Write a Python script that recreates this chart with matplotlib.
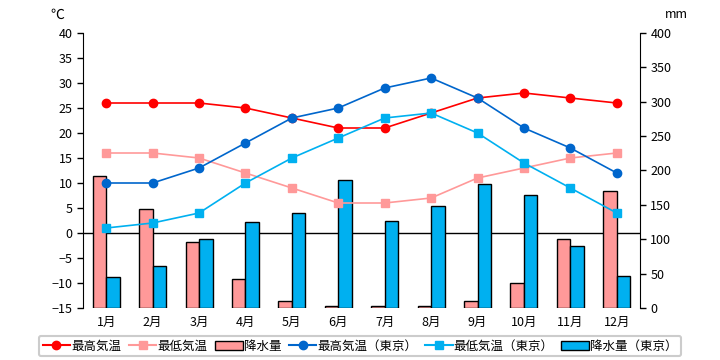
import numpy as np
import matplotlib.pyplot as plt
from matplotlib.lines import Line2D
from matplotlib.patches import Patch
from matplotlib.transforms import blended_transform_factory

plt.rcParams['font.family'] = ['Noto Sans CJK JP', 'DejaVu Sans']

# Data
months = ["1月", "2月", "3月", "4月", "5月", "6月", "7月", "8月", "9月", "10月", "11月", "12月"]
max_temp = [26, 26, 26, 25, 23, 21, 21, 24, 27, 28, 27, 26]
min_temp = [16, 16, 15, 12, 9, 6, 6, 7, 11, 13, 15, 16]
rain = [192, 144, 96, 42, 10, 3, 3, 3, 10, 37, 101, 170]
max_temp_tokyo = [10, 10, 13, 18, 23, 25, 29, 31, 27, 21, 17, 12]
min_temp_tokyo = [1, 2, 4, 10, 15, 19, 23, 24, 20, 14, 9, 4]
rain_tokyo = [45, 61, 100, 125, 138, 186, 126, 148, 180, 164, 90, 46]

# Colours
c_max = "#FF0000"
c_min = "#FF9999"
c_max_t = "#0066CC"
c_min_t = "#00B0F0"
bg = "#FFFFCC"

x = np.arange(len(months))
w = 0.29

fig = plt.figure(figsize=(7.2, 3.6), dpi=100)
ax = fig.add_axes([83 / 720, 1 - 308 / 360, (640 - 83) / 720, (308 - 33) / 360])
ax2 = ax.twinx()
ax.set_zorder(ax2.get_zorder() + 1)
ax.patch.set_visible(False)
ax2.set_facecolor(bg)

# precipitation bars (right axis)
ax2.bar(x - w / 2, rain, w, color=c_min, edgecolor="black", linewidth=1, zorder=3)
ax2.bar(x + w / 2, rain_tokyo, w, color=c_min_t, edgecolor="black", linewidth=1, zorder=3)
ax2.set_ylim(0, 400)
ax2.set_yticks(np.arange(0, 401, 50))

# zero line of the temperature axis, kept behind the bars
trans = blended_transform_factory(ax2.transAxes, ax.transData)
ax2.plot([0, 1], [0, 0], color="black", linewidth=1, transform=trans, zorder=2)

# temperature lines (left axis)
ax.plot(x, max_temp, color=c_max, marker="o", markersize=6, linewidth=1.2)
ax.plot(x, min_temp, color=c_min, marker="s", markersize=6, linewidth=1.2)
ax.plot(x, max_temp_tokyo, color=c_max_t, marker="o", markersize=6, linewidth=1.2)
ax.plot(x, min_temp_tokyo, color=c_min_t, marker="s", markersize=6, linewidth=1.2)
ax.set_ylim(-15, 40)
ax.set_yticks(np.arange(-15, 41, 5))
ax.set_xlim(-0.5, 11.5)
ax.set_xticks(x)
ax.set_xticklabels(months)

for a in (ax, ax2):
    a.spines["top"].set_visible(False)
    a.spines["bottom"].set_visible(False)
    a.tick_params(axis="x", length=0, pad=6, labelsize=9)
    a.tick_params(axis="y", length=4, width=1, labelsize=9, direction="out")
ax.spines["right"].set_visible(False)
ax2.spines["left"].set_visible(False)

fig.text(50 / 720, 1 - 15 / 360, "℃", fontsize=10, ha="left", va="center")
fig.text(665 / 720, 1 - 15 / 360, "mm", fontsize=9, ha="left", va="center")

handles = [
    Line2D([], [], color=c_max, marker="o", markersize=6),
    Line2D([], [], color=c_min, marker="s", markersize=6),
    Patch(facecolor=c_min, edgecolor="black"),
    Line2D([], [], color=c_max_t, marker="o", markersize=6),
    Line2D([], [], color=c_min_t, marker="s", markersize=6),
    Patch(facecolor=c_min_t, edgecolor="black"),
]
labels = ["最高気温", "最低気温", "降水量", "最高気温（東京）", "最低気温（東京）", "降水量（東京）"]
leg = fig.legend(handles, labels, loc="center", bbox_to_anchor=(0.5, 1 - 346 / 360),
                 ncol=6, fontsize=9, frameon=True, fancybox=True,
                 handlelength=2.2, handletextpad=0.1, columnspacing=0.6,
                 borderpad=0.3, borderaxespad=0, edgecolor="#C0C0C0")
leg.get_frame().set_linewidth(1.5)

fig.savefig("out.png", dpi=100)
